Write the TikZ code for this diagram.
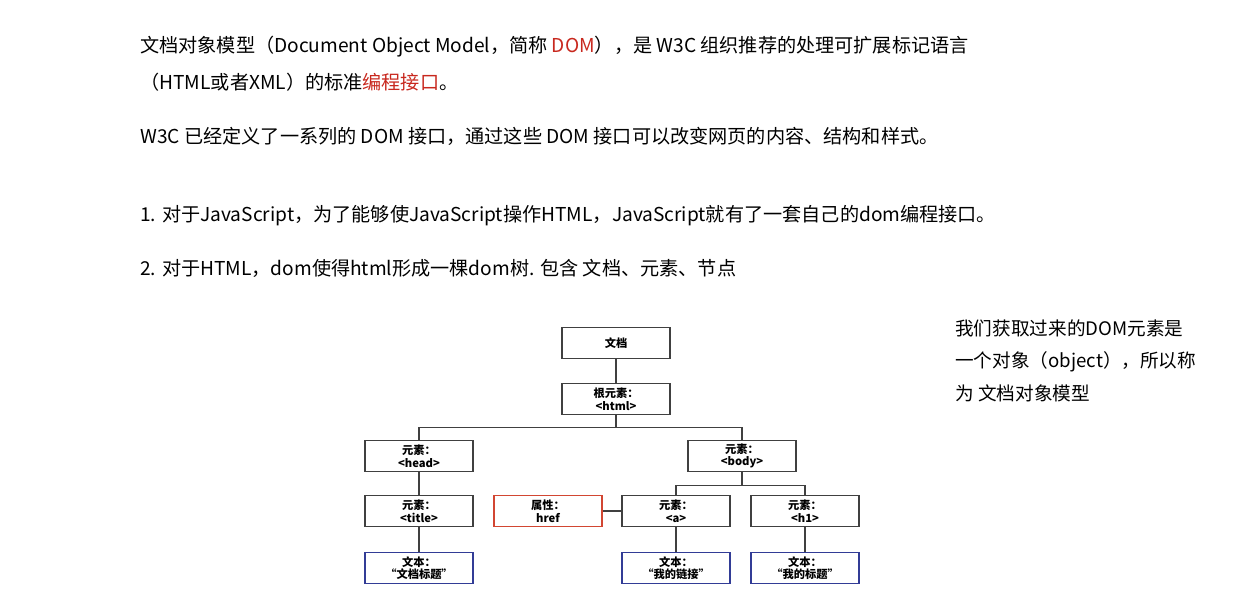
\documentclass[tikz,border=0pt]{standalone}
\usepackage{fontspec}
\setmainfont{Noto Sans CJK SC}
\usepackage{tikz}
\usetikzlibrary{positioning}
\definecolor{domred}{RGB}{200,40,30}
\definecolor{boxred}{RGB}{210,70,50}
\definecolor{boxblue}{RGB}{50,60,150}

\begin{document}
\begin{tikzpicture}[
        x=0.02cm, y=-0.02cm,
        tbox/.style={draw=black!75, line width=1.1pt, minimum width=2.16cm, minimum height=0.62cm,
            inner sep=0pt, align=center, font=\fontsize{6.4}{7.2}\selectfont\bfseries},
        attrbox/.style={tbox, draw=boxred},
        textbox/.style={tbox, draw=boxblue},
        para/.style={anchor=west, inner sep=0pt, font=\fontsize{10.9}{12}\selectfont},
        link/.style={draw=black!75, line width=1.1pt}
    ]
    \useasboundingbox (0,0) rectangle (1260,613);

    % paragraphs
    \node[para] (p1) at (140,47) {文档对象模型（Document Object Model，简称 \textcolor{domred}{DOM}），是 W3C 组织推荐的处理可扩展标记语言};
    \node[para] (p2) at (140,82) {（HTML或者XML）的标准\textcolor{domred}{编程接口}。};
    \node[para] (p3) at (140,136) {W3C 已经定义了一系列的 DOM 接口，通过这些 DOM 接口可以改变网页的内容、结构和样式。};
    \node[para] (p4) at (140,216) {1. 对于JavaScript，为了能够使JavaScript操作HTML，JavaScript就有了一套自己的dom编程接口。};
    \node[para] (p5) at (140,268) {2. 对于HTML，dom使得html形成一棵dom树. 包含 文档、元素、节点};
    \node[para, align=left, anchor=north west, font=\fontsize{10.6}{18.5}\selectfont] (note) at (955,319)
        {我们获取过来的DOM元素是\\一个对象（object），所以称\\为 文档对象模型};

    % tree
    \node[tbox] (doc) at (616,343) {文档};
    \node[tbox] (html) at (616,399) {根元素：\\<html>};
    \node[tbox] (head) at (419,456) {元素：\\<head>};
    \node[tbox] (body) at (742,456) {元素：\\<body>};
    \node[tbox] (title) at (419,511) {元素：\\<title>};
    \node[attrbox] (href) at (548,511) {属性：\\href};
    \node[tbox] (a) at (676,511) {元素：\\<a>};
    \node[tbox] (h1) at (805,511) {元素：\\<h1>};
    \node[textbox] (t1) at (419,568) {文本：\\“文档标题”};
    \node[textbox] (t2) at (676,568) {文本：\\“我的链接”};
    \node[textbox] (t3) at (805,568) {文本：\\“我的标题”};

    \draw[link] (doc) -- (html);
    \draw[link] (html.south) -- ++(0,12) -| (head.north);
    \draw[link] (html.south) -- ++(0,12) -| (body.north);
    \draw[link] (body.south) -- ++(0,13) -| (a.north);
    \draw[link] (body.south) -- ++(0,13) -| (h1.north);
    \draw[link] (head) -- (title);
    \draw[link] (title) -- (t1);
    \draw[link] (href) -- (a);
    \draw[link] (a) -- (t2);
    \draw[link] (h1) -- (t3);
\end{tikzpicture}
\end{document}
